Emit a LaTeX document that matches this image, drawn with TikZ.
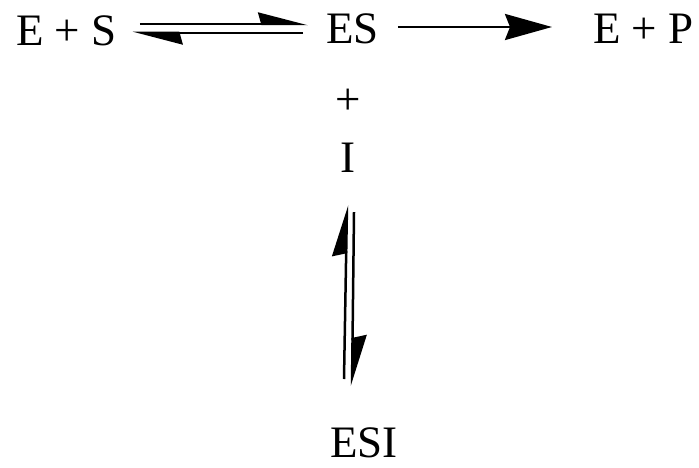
\documentclass[tikz,border=0pt]{standalone}
\usepackage{fontspec}
\setmainfont{Liberation Serif}
\usetikzlibrary{arrows.meta}

\begin{document}
\begin{tikzpicture}[x=1pt, y=-1pt,
    every node/.style={inner sep=0pt, font=\fontsize{45}{54}\selectfont},
    harp/.style={line width=2.5pt, -{Stealth[length=45pt, width=23pt, inset=3pt, harpoon]}},
    harpv/.style={line width=2.5pt, -{Stealth[length=47pt, width=28pt, inset=3pt, harpoon]}},
    fwd/.style={line width=2.5pt, -{Stealth[length=47pt, width=26pt, inset=5pt]}}]
    \useasboundingbox (0,0) rectangle (699,468);

    % top row
    \node[anchor=base west] (EplusS) at (16,46) {E + S};
    \node[anchor=base west] (ES) at (326,44) {ES};
    \node[anchor=base west] (EplusP) at (593,44) {E + P};

    % equilibrium
    \draw[harp] ([xshift=23pt, yshift=22pt]EplusS.base east) -- ([xshift=-18pt, yshift=20pt]ES.base west);
    \draw[harp] ([xshift=-23pt, yshift=11pt]ES.base west) -- ([xshift=16pt, yshift=13pt]EplusS.base east);
    % product
    \draw[fwd] ([xshift=19pt, yshift=17pt]ES.base east) -- ([xshift=-41pt, yshift=17pt]EplusP.base west);

    % inhibitor
    \node[anchor=base] (plus) at (348,115) {+};
    \node[anchor=base] (I) at (348,173) {I};
    \node[anchor=base] (ESI) at (364,457) {ESI};
    \coordinate (Ibot) at (I.south |- ESI.north);

    \draw[harpv] ([xshift=-4pt, yshift=48pt]Ibot) -- ([xshift=-1pt, yshift=-32pt]I.south);
    \draw[harpv] ([xshift=6pt, yshift=-39pt]I.south) -- ([xshift=4pt, yshift=41pt]Ibot);
\end{tikzpicture}
\end{document}
